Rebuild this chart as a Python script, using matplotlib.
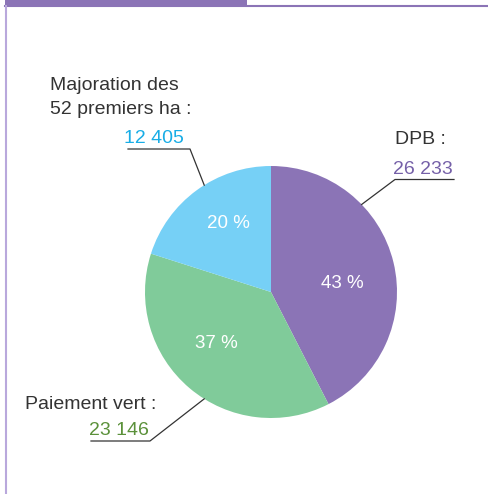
import matplotlib
matplotlib.use("Agg")

import numpy as np
import matplotlib.pyplot as plt

# data
labels = ["DPB :", "Paiement vert :", "Majoration des\n52 premiers ha :"]
values = [26233, 23146, 12405]
value_text = ["26 233", "23 146", "12 405"]
pct_text = ["43 %", "37 %", "20 %"]

wedge_colors = ["#8b74b6", "#80cb9a", "#76d0f6"]
value_colors = ["#7560a8", "#5b913a", "#18ade6"]

plt.rcParams['font.family'] = ['Liberation Sans', 'DejaVu Sans']

W, H = 488, 494
fig = plt.figure(figsize=(W / 100, H / 100), dpi=100)
ax = fig.add_axes([0, 0, 1, 1])

# frame
purple = "#8b74b6"
ax.add_patch(plt.Rectangle((5, H - 6), 242, 6, color=purple, lw=0))
ax.plot([5, W], [H - 6.5, H - 6.5], color=purple, lw=1.5)
ax.plot([5.5, 5.5], [0, H - 6.5], color="#b9a8dc", lw=1.5)

cx, cy, r = 271, 202, 126
wedges, _ = ax.pie(values, center=(cx, cy), radius=r, startangle=90,
                   counterclock=False, colors=wedge_colors,
                   wedgeprops=dict(linewidth=0))
ax.set_xlim(0, W)
ax.set_ylim(0, H)
ax.set_aspect("equal")
ax.axis("off")

# percentage labels (x centre, baseline)
pct_pos = [(342.5, 206), (216.5, 146), (228.5, 266)]
for (px, py), t in zip(pct_pos, pct_text):
    ax.text(px, py, t, color="white", fontsize=13.5, ha="center", va="baseline")

# leader lines: edge angle, elbow point, end of the underline
leaders = [(44, (395, 314.5), 454), (238, (150, 53), 91), (122, (190, 345), 128)]
for ang, (ex, ey), ux in leaders:
    a = np.radians(ang)
    sx, sy = cx + r * np.cos(a), cy + r * np.sin(a)
    ax.plot([sx, ex, ux], [sy, ey, ey], color="#333333", lw=0.9)

# callout texts
txt = "#333333"
fs = 14
ax.text(395, 350, labels[0], fontsize=fs, color=txt, ha="left", va="baseline")
ax.text(453, 320, value_text[0], fontsize=fs, color=value_colors[0], ha="right", va="baseline")

ax.text(25, 85, labels[1], fontsize=fs, color=txt, ha="left", va="baseline")
ax.text(149, 59, value_text[1], fontsize=fs, color=value_colors[1], ha="right", va="baseline")

for i, line in enumerate(labels[2].split("\n")):
    ax.text(50, 404 - 24 * i, line, fontsize=fs, color=txt, ha="left", va="baseline")
ax.text(184, 351, value_text[2], fontsize=fs, color=value_colors[2], ha="right", va="baseline")

fig.savefig("out.png", dpi=100)
